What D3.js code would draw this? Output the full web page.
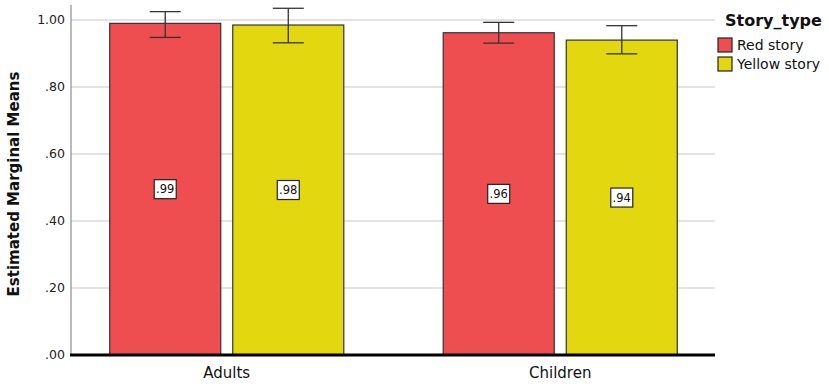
<!DOCTYPE html>
<html><head><meta charset="utf-8">
<script src="https://cdn.jsdelivr.net/npm/d3@7"></script>
<style>body{margin:0;background:#fff}svg{display:block}text{font-family:"DejaVu Sans",sans-serif}</style>
</head><body><svg id="c" width="829" height="384"></svg>
<script>
const groups = ["Adults", "Children"];
const series = ["Red story", "Yellow story"];
const means = [[0.99, 0.985], [0.962, 0.940]];
const labels = [[".99", ".98"], [".96", ".94"]];
const lower = [[0.948, 0.932], [0.931, 0.899]];
const upper = [[1.025, 1.035], [0.993, 0.983]];
const yTicks = [0, 0.2, 0.4, 0.6, 0.8, 1.0];
const yTickLabels = [".00", ".20", ".40", ".60", ".80", "1.00"];
const colors = ["#EF4E50", "#E3D80F"];
const legendTitle = "Story_type";
const yTitle = "Estimated Marginal Means";

const svg = d3.select("#c");
const plotL = 71, plotR = 715, plotT = 5;
const y = d3.scaleLinear().domain([0, 1]).range([355, 20]);
const x0 = d3.scaleBand().domain(groups).range([60, 727]).paddingInner(0).paddingOuter(0);
const x1 = d3.scaleBand().domain(series).range([0, x0.bandwidth()]).paddingInner(0.0976).paddingOuter(0.404);

// grid
svg.append("g").selectAll("line").data(yTicks.filter(d => d > 0)).join("line")
  .attr("x1", plotL).attr("x2", plotR).attr("y1", d => y(d)).attr("y2", d => y(d))
  .attr("stroke", "#c8c8c8").attr("stroke-width", 1.2);

// left axis
svg.append("line").attr("x1", plotL).attr("x2", plotL).attr("y1", plotT).attr("y2", y(0))
  .attr("stroke", "#8c8c8c").attr("stroke-width", 1.2);

svg.append("g").selectAll("text").data(yTicks).join("text")
  .attr("x", 65).attr("y", d => y(d)).attr("dy", "0.35em").attr("text-anchor", "end")
  .attr("font-size", 12.5).attr("fill", "#222").text((d, i) => yTickLabels[i]);

svg.append("text").attr("transform", `translate(19,${(y(0)+plotT)/2 + 4}) rotate(-90)`)
  .attr("text-anchor", "middle").attr("font-size", 15).attr("font-weight", "bold").attr("fill", "#111")
  .text(yTitle);

// bars
const gG = svg.append("g").selectAll("g").data(groups).join("g")
  .attr("transform", d => `translate(${x0(d)},0)`);
gG.each(function(g, gi) {
  const sel = d3.select(this);
  series.forEach((s, si) => {
    const bx = x1(s), bw = x1.bandwidth(), v = means[gi][si];
    sel.append("rect").attr("x", bx).attr("y", y(v)).attr("width", bw).attr("height", y(0) - y(v))
      .attr("fill", colors[si]).attr("stroke", "#333").attr("stroke-width", 1.2);
    const cx = bx + bw / 2;
    sel.append("line").attr("x1", cx).attr("x2", cx).attr("y1", y(upper[gi][si])).attr("y2", y(lower[gi][si]))
      .attr("stroke", "#333").attr("stroke-width", 1.3);
    [upper[gi][si], lower[gi][si]].forEach(e => {
      sel.append("line").attr("x1", cx - 15.5).attr("x2", cx + 15.5).attr("y1", y(e)).attr("y2", y(e))
        .attr("stroke", "#333").attr("stroke-width", 1.3);
    });
    const ly = y(v / 2);
    sel.append("rect").attr("x", cx - 11).attr("y", ly - 9.5).attr("width", 22).attr("height", 19)
      .attr("fill", "#fff").attr("stroke", "#222").attr("stroke-width", 1.2);
    sel.append("text").attr("x", cx).attr("y", ly).attr("dy", "0.36em").attr("text-anchor", "middle")
      .attr("font-size", 11.5).attr("fill", "#111").text(labels[gi][si]);
  });
});

// bottom axis
svg.append("line").attr("x1", plotL - 1).attr("x2", plotR).attr("y1", y(0)).attr("y2", y(0))
  .attr("stroke", "#000").attr("stroke-width", 3);
svg.append("g").selectAll("text").data(groups).join("text")
  .attr("x", d => x0(d) + x0.bandwidth() / 2).attr("y", 378).attr("text-anchor", "middle")
  .attr("font-size", 15).attr("fill", "#111").text(d => d);

// legend
svg.append("text").attr("x", 725).attr("y", 26).attr("font-size", 16).attr("font-weight", "bold")
  .attr("fill", "#111").text(legendTitle);
const lg = svg.append("g").selectAll("g").data(series).join("g")
  .attr("transform", (d, i) => `translate(718,${38 + i * 19})`);
lg.append("rect").attr("width", 14).attr("height", 14).attr("fill", (d, i) => colors[i])
  .attr("stroke", "#222").attr("stroke-width", 1.2);
lg.append("text").attr("x", 19).attr("y", 7).attr("dy", "0.36em").attr("font-size", 14)
  .attr("fill", "#111").text(d => d);
</script></body></html>
